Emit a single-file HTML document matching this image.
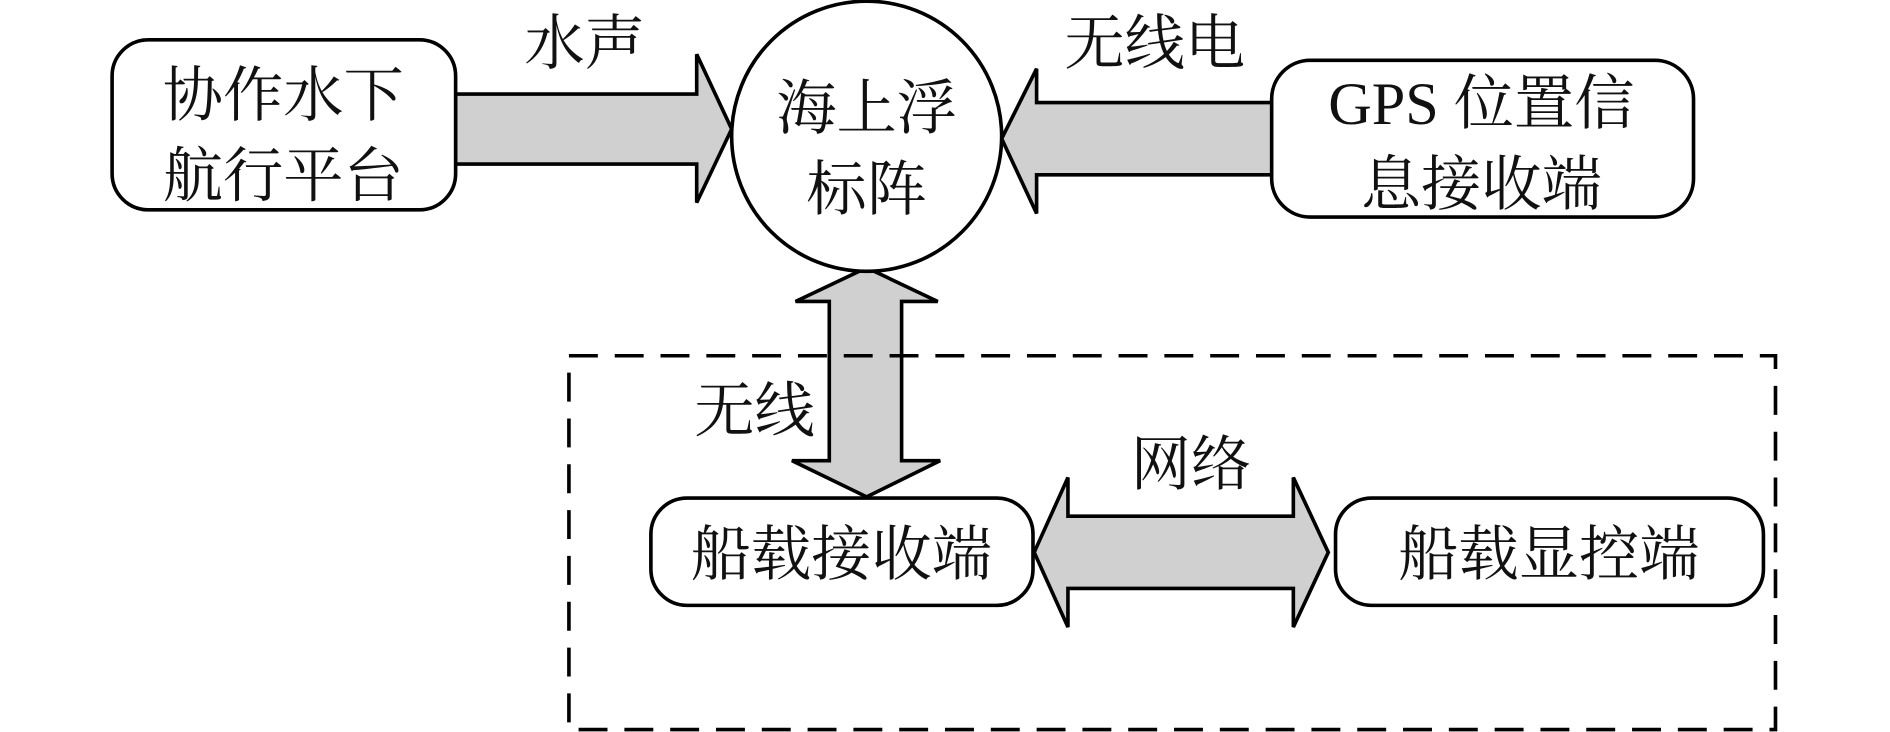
<!DOCTYPE html>
<html><head><meta charset="utf-8"><style>
html,body{margin:0;padding:0;background:#fff;}
svg{display:block;}
text{font-family:"Liberation Serif","Noto Serif CJK SC",serif;font-size:50px;fill:#111;}
</style></head><body>
<svg width="1890" height="732" viewBox="0 0 1568 607" preserveAspectRatio="none" xmlns="http://www.w3.org/2000/svg">
<g stroke="#000" stroke-width="3" fill="#d0d0d0" stroke-linejoin="miter">
<!-- arrow 1 right -->
<polygon points="378,78 578,78 578,45 607,107 578,168 578,136 378,136"/>
<!-- arrow 2 left -->
<polygon points="1056,85 860,85 860,57 831,115 860,177 860,145 1056,145"/>
<!-- vertical double -->
<polygon points="719,222 778,250 748,250 748,382 780,382 719,412 657,382 688,382 688,250 660,250"/>
<!-- horizontal double -->
<polygon points="858,458 886,396 886,428 1073,428 1073,396 1102,458 1073,520 1073,488 886,488 886,520"/>
</g>
<g stroke="#000" stroke-width="3" fill="#fff">
<rect x="93" y="33" width="285" height="141" rx="30"/>
<circle cx="719" cy="113" r="112"/>
<rect x="1055" y="50" width="350" height="130" rx="32"/>
<rect x="540" y="413" width="317" height="89" rx="30"/>
<rect x="1108" y="413" width="355" height="89" rx="30"/>
</g>
<rect x="472" y="295" width="1001" height="310" fill="none" stroke="#000" stroke-width="3" stroke-dasharray="24,14"/>
<text x="235" y="96" text-anchor="middle">协作水下</text>
<text x="235" y="163" text-anchor="middle">航行平台</text>
<text x="485" y="53" text-anchor="middle">水声</text>
<text x="719" y="107" text-anchor="middle">海上浮</text>
<text x="719" y="174" text-anchor="middle">标阵</text>
<text x="958" y="53" text-anchor="middle">无线电</text>
<text x="1229" y="103" text-anchor="middle">GPS 位置信</text>
<text x="1229" y="170" text-anchor="middle">息接收端</text>
<text x="626" y="358" text-anchor="middle">无线</text>
<text x="988" y="402" text-anchor="middle">网络</text>
<text x="698" y="477" text-anchor="middle">船载接收端</text>
<text x="1285" y="477" text-anchor="middle">船载显控端</text>
</svg>
</body></html>
